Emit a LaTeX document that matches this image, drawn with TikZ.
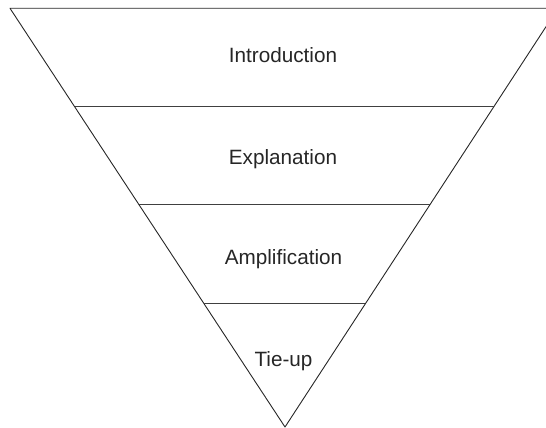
\documentclass[tikz,border=0pt]{standalone}
\usepackage{fontspec}
\setmainfont{Liberation Sans}
\usetikzlibrary{calc}
\begin{document}
\begin{tikzpicture}[x=1pt,y=-1pt,
  edge/.style={line width=0.9pt, draw=black!85},
  divider/.style={line width=1pt, draw=black!75},
  label/.style={font=\fontsize{20.7}{24}\selectfont, text=black!85, anchor=base, inner sep=0pt}]
\useasboundingbox (0,0) rectangle (546,428);
\clip (0,0) rectangle (546,428);
\coordinate (TL) at (10,8.3);
\coordinate (TR) at (558,8.3);
\coordinate (A) at (285,427);
\draw[edge, line join=round] (TL) -- (A) -- (TR) -- cycle;
\coordinate (L1) at ($(TL)!0.235!(A)$);
\coordinate (R1) at ($(TR)!0.235!(A)$);
\coordinate (L2) at ($(TL)!0.4674!(A)$);
\coordinate (R2) at ($(TR)!0.4674!(A)$);
\coordinate (L3) at ($(TL)!0.7062!(A)$);
\coordinate (R3) at ($(TR)!0.7062!(A)$);
\draw[divider] (L1) -- (R1);
\draw[divider] (L2) -- (R2);
\draw[divider] (L3) -- (R3);
\node[label] (intro) at (283,62.3) {Introduction};
\node[label] (expl) at (283,164) {Explanation};
\node[label] (ampl) at (283.5,264) {Amplification};
\node[label] (tie) at (283.5,366) {Tie-up};
\end{tikzpicture}
\end{document}
